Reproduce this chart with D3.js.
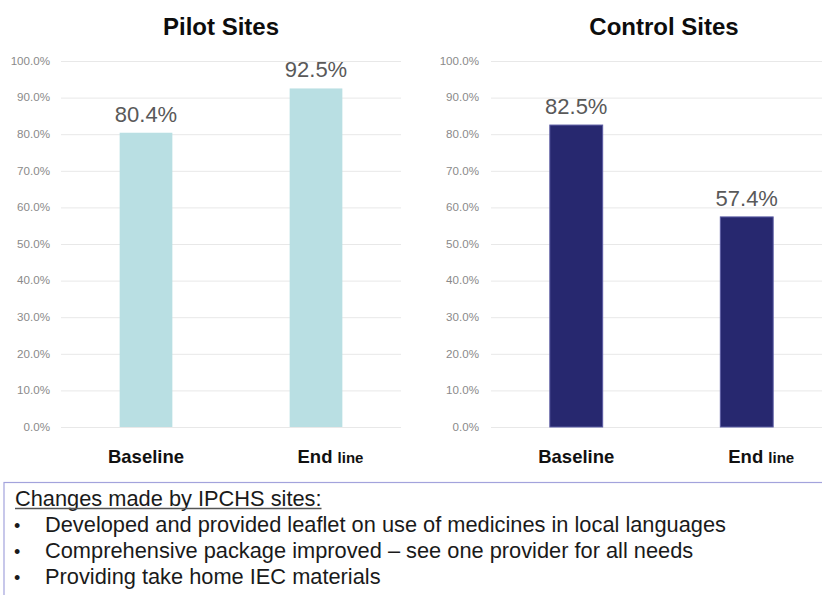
<!DOCTYPE html>
<html>
<head>
<meta charset="utf-8">
<script src="https://cdn.jsdelivr.net/npm/d3@7"></script>
<style>
  html, body { margin: 0; padding: 0; background: #fff; }
  svg { display: block; font-family: "Liberation Sans", Arial, sans-serif; }
</style>
</head>
<body>
<svg id="chart" width="822" height="595"></svg>
<script>
// ---- data ----
const categories = ["Baseline", "End line"];
const pilotValues = [80.4, 92.5];
const controlValues = [82.5, 57.4];
const yTicks = [0, 10, 20, 30, 40, 50, 60, 70, 80, 90, 100];
const panelTitles = ["Pilot Sites", "Control Sites"];
const notesTitle = "Changes made by IPCHS sites:";
const notes = [
  "Developed and provided leaflet on use of medicines in local languages",
  "Comprehensive package improved \u2013 see one provider for all needs",
  "Providing take home IEC materials"
];

// ---- layout ----
const svg = d3.select("#chart");
const W = 822, H = 595;
const plotTop = 61, plotBottom = 427;
const panels = [
  { title: panelTitles[0], values: pilotValues, x0: 61, x1: 401, color: "#b9dfe3", stroke: "none", titleX: 221, pad: 11 },
  { title: panelTitles[1], values: controlValues, x0: 491, x1: 832, color: "#27286f", stroke: "#5b5ca3", titleX: 664, pad: 12 }
];

const y = d3.scaleLinear().domain([0, 100]).range([plotBottom, plotTop]);

panels.forEach(p => {
  const x = d3.scaleBand().domain(categories).range([p.x0, p.x1])
    .paddingInner(0.69).paddingOuter(0.345);
  const g = svg.append("g");

  // axis + gridlines
  const axis = d3.axisLeft(y).tickValues(yTicks)
    .tickFormat(d => d.toFixed(1) + "%")
    .tickSize(-(p.x1 - p.x0)).tickPadding(p.pad);
  const ag = g.append("g").attr("transform", `translate(${p.x0},0)`).call(axis);
  ag.select(".domain").remove();
  ag.selectAll(".tick line").attr("stroke", "#e8e8e8").attr("stroke-width", 1);
  ag.selectAll(".tick text")
    .attr("fill", "#8a8a8a")
    .style("font-size", "10px")
    .style("font-family", "'Liberation Sans', Arial, sans-serif")
    .each(function () {
      const len = this.getComputedTextLength();
      d3.select(this).attr("textLength", len * 1.16).attr("lengthAdjust", "spacingAndGlyphs");
    });

  // bars
  g.selectAll("rect.bar").data(p.values).join("rect")
    .attr("class", "bar")
    .attr("x", (d, i) => x(categories[i]))
    .attr("width", x.bandwidth())
    .attr("y", d => y(d))
    .attr("height", d => y(0) - y(d))
    .attr("fill", p.color)
    .attr("stroke", p.stroke)
    .attr("stroke-width", p.stroke === "none" ? 0 : 1);

  // value labels
  g.selectAll("text.val").data(p.values).join("text")
    .attr("class", "val")
    .attr("x", (d, i) => x(categories[i]) + x.bandwidth() / 2)
    .attr("y", d => y(d) - 11)
    .attr("text-anchor", "middle")
    .attr("fill", "#595959")
    .style("font-size", "22px")
    .text(d => d.toFixed(1) + "%");

  // category labels
  categories.forEach((c, i) => {
    const cx = x(c) + x.bandwidth() / 2;
    if (i === 0) {
      g.append("text").attr("x", cx).attr("y", 463)
        .attr("text-anchor", "middle").attr("fill", "#111")
        .style("font-size", "18.5px").style("font-weight", "bold")
        .text(c);
    } else {
      const parts = c.split(" ");
      const t = g.append("text").attr("x", cx - 18.5).attr("y", 463)
        .attr("fill", "#111").style("font-weight", "bold");
      t.append("tspan").style("font-size", "18.5px").text(parts[0] + " ");
      t.append("tspan").style("font-size", "15px").text(parts[1]);
    }
  });

  // title
  g.append("text").attr("x", p.titleX).attr("y", 35)
    .attr("text-anchor", "middle").attr("fill", "#0d0d0d")
    .style("font-size", "24px").style("font-weight", "bold")
    .text(p.title);
});

// ---- notes box ----
svg.append("rect").attr("x", 4).attr("y", 482.5).attr("width", W).attr("height", 200)
  .attr("fill", "none").attr("stroke", "#a3a3dc").attr("stroke-width", 1.2);

const nt = svg.append("text").attr("x", 15).attr("y", 506)
  .attr("fill", "#1a1a1a").style("font-size", "21.8px").text(notesTitle);
const ntLen = nt.node().getComputedTextLength();
svg.append("line").attr("x1", 15).attr("x2", 15 + ntLen).attr("y1", 508.5).attr("y2", 508.5)
  .attr("stroke", "#555").attr("stroke-width", 1.4);

notes.forEach((n, i) => {
  const by = 531.5 + i * 26;
  svg.append("text").attr("x", 14).attr("y", by).attr("fill", "#1a1a1a")
    .style("font-size", "18px").text("\u2022");
  svg.append("text").attr("x", 45).attr("y", by).attr("fill", "#1a1a1a")
    .style("font-size", "21.8px").text(n);
});
</script>
</body>
</html>
